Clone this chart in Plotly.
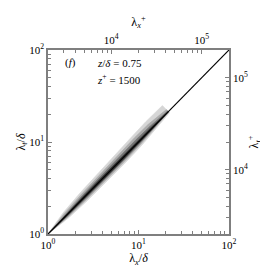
import numpy as np
import plotly.graph_objects as go

# ---- data ----
line_x = [1, 100]          # lambda_x / delta  (Taylor line)
line_y = [1, 100]          # lambda_t / delta
delta_plus = 2000          # z+/ (z/delta) = 1500/0.75

# band (joint PDF contours) : position along diagonal s (log10) and perpendicular offsets t (log10)
s_nodes = [0.0, 0.2, 0.4, 0.6, 0.8, 1.0, 1.15, 1.33]
t_up_1 = [0.0, 0.032, 0.046, 0.054, 0.060, 0.066, 0.070, 0.066]
t_lo_1 = [0.0, -0.026, -0.036, -0.040, -0.040, -0.036, -0.026, -0.012]
t_up_2 = [0.0, 0.021, 0.031, 0.037, 0.041, 0.045, 0.042, 0.022]
t_lo_2 = [0.0, -0.018, -0.025, -0.028, -0.028, -0.024, -0.017, -0.005]
t_up_3 = [0.0, 0.012, 0.019, 0.023, 0.025, 0.026, 0.022, 0.008]
t_lo_3 = [0.0, -0.011, -0.016, -0.018, -0.018, -0.015, -0.010, -0.002]
t_up_4 = [0.0, 0.006, 0.009, 0.011, 0.012, 0.012, 0.009, 0.002]
t_lo_4 = [0.0, -0.006, -0.009, -0.010, -0.011, -0.010, -0.006, -0.001]
level_colors = ["#d6d6d6", "#ababab", "#737373", "#303030"]

x_ticks = [1, 10, 100]
x_ticktext = ["10<sup>0</sup>", "10<sup>1</sup>", "10<sup>2</sup>"]
plus_ticks = [1e4, 1e5]
plus_ticktext = ["10<sup>4</sup>", "10<sup>5</sup>"]

FONT = "Liberation Serif, Times New Roman, serif"
AX = "#7f7f7f"

fig = go.Figure()

def band(tu, tl, color):
    s = np.array(s_nodes)
    tu = np.array(tu); tl = np.array(tl)
    xs = np.concatenate([s - tu, (s - tl)[::-1]])
    ys = np.concatenate([s + tu, (s + tl)[::-1]])
    fig.add_trace(go.Scatter(x=10 ** xs, y=10 ** ys, mode="lines", fill="toself",
                             fillcolor=color, line=dict(width=0.6, color=color),
                             hoverinfo="skip", showlegend=False))

for tu, tl, c in [(t_up_1, t_lo_1, level_colors[0]), (t_up_2, t_lo_2, level_colors[1]),
                  (t_up_3, t_lo_3, level_colors[2]), (t_up_4, t_lo_4, level_colors[3])]:
    band(tu, tl, c)

fig.add_trace(go.Scatter(x=line_x, y=line_y, mode="lines",
                         line=dict(color="black", width=1.2), showlegend=False))
# invisible trace for the secondary (+) axes
fig.add_trace(go.Scatter(x=[v * delta_plus for v in line_x], y=[v * delta_plus for v in line_y],
                         xaxis="x2", yaxis="y2", mode="lines",
                         line=dict(width=0, color="rgba(0,0,0,0)"), showlegend=False, hoverinfo="skip"))

common = dict(showline=True, linecolor=AX, linewidth=1.6, mirror=False, ticks="inside",
              ticklen=4, tickwidth=1, tickcolor=AX, showgrid=False, zeroline=False,
              tickfont=dict(family=FONT, size=11, color="black"),
              minor=dict(ticks="inside", ticklen=3, tickcolor=AX, dtick="D1", showgrid=False))

TF = dict(family=FONT, size=12, color="black")

fig.update_layout(
    width=268, height=268,
    margin=dict(l=36, r=47, t=42, b=42),
    paper_bgcolor="white", plot_bgcolor="white",
    xaxis=dict(type="log", range=[0, 2], tickvals=x_ticks, ticktext=x_ticktext,
               title=dict(text="λ<sub><i>x</i></sub>/<i>δ</i>", font=TF, standoff=3),
               **common),
    yaxis=dict(type="log", range=[0, 2], tickvals=x_ticks, ticktext=x_ticktext,
               title=dict(text="λ<sub><i>t</i></sub>/<i>δ</i>", font=TF, standoff=1),
               **common),
    xaxis2=dict(type="log", overlaying="x", side="top", anchor="y",
                range=[np.log10(delta_plus), np.log10(delta_plus * 100)],
                tickvals=plus_ticks, ticktext=plus_ticktext,
                title=dict(text="λ<sub><i>x</i></sub><sup>+</sup>", font=TF, standoff=3),
                **common),
    yaxis2=dict(type="log", overlaying="y", side="right", anchor="x",
                range=[np.log10(delta_plus), np.log10(delta_plus * 100)],
                tickvals=plus_ticks, ticktext=plus_ticktext,
                title=dict(text="λ<sub><i>t</i></sub><sup>+</sup>", font=TF, standoff=3),
                **common),
    annotations=[
        dict(x=0.124, y=0.93, xref="paper", yref="paper", text="(<i>f</i>)", showarrow=False,
             xanchor="center", yanchor="middle", font=dict(family=FONT, size=11, color="black")),
        dict(x=0.262, y=0.93, xref="paper", yref="paper", text="<i>z</i>/<i>δ</i> = 0.75", showarrow=False,
             xanchor="left", yanchor="middle", font=dict(family=FONT, size=11, color="black")),
        dict(x=0.262, y=0.84, xref="paper", yref="paper", text="<i>z</i><sup>+</sup> = 1500", showarrow=False,
             xanchor="left", yanchor="middle", font=dict(family=FONT, size=11, color="black")),
    ],
)

fig.write_html("out.html")
